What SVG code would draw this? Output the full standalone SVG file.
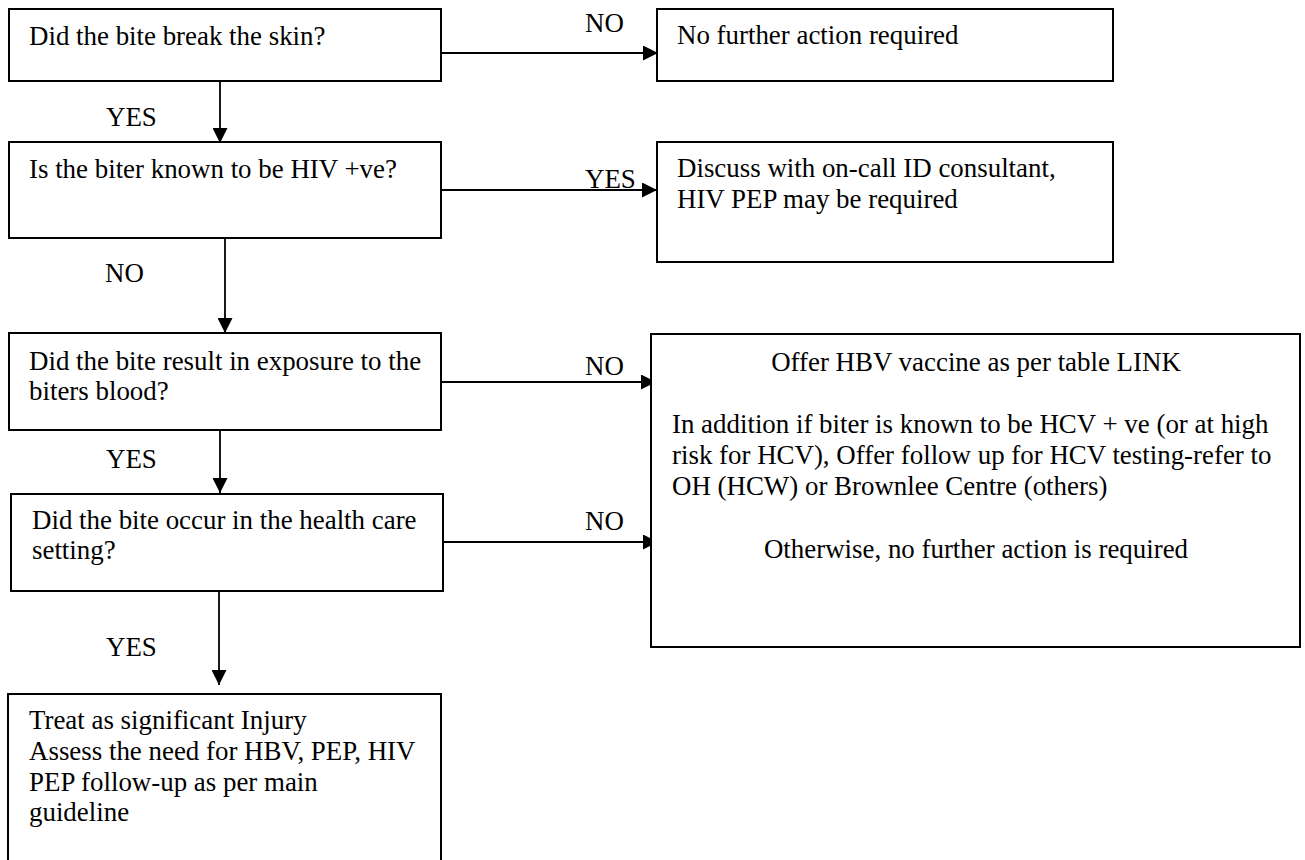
<svg xmlns="http://www.w3.org/2000/svg" width="1305" height="860" viewBox="0 0 1305 860">
<style>
.box{fill:#fff;stroke:#000;stroke-width:2}
.t{font-family:"Liberation Serif","Times New Roman",serif;font-size:26.9px;fill:#000}
.lbl{font-family:"Liberation Serif","Times New Roman",serif;font-size:26.9px;fill:#000}
.c{stroke:#000;stroke-width:1.8;fill:none;marker-end:url(#ah)}
</style>
<defs>
<marker id="ah" viewBox="0 0 15 15" refX="15" refY="7.5" markerUnits="userSpaceOnUse" markerWidth="15" markerHeight="15" orient="auto">
<path d="M0,0 L15,7.5 L0,15 Z" fill="#000"/>
</marker>
</defs>
<rect width="1305" height="860" fill="#fff"/>
<g id="connectors">
<line class="c" x1="442" y1="53" x2="658" y2="53"/>
<line class="c" x1="220" y1="81" x2="220" y2="143"/>
<line class="c" x1="442" y1="190" x2="657" y2="190"/>
<line class="c" x1="225" y1="238" x2="225" y2="333"/>
<line class="c" x1="442" y1="382" x2="656" y2="382"/>
<line class="c" x1="220" y1="430" x2="220" y2="493"/>
<line class="c" x1="443" y1="542" x2="658" y2="542"/>
<line class="c" x1="219" y1="591" x2="219" y2="685"/>
<text class="lbl" x="585" y="32">NO</text>
<text class="lbl" x="106" y="126">YES</text>
<text class="lbl" x="585" y="188">YES</text>
<text class="lbl" x="105" y="282">NO</text>
<text class="lbl" x="585" y="375">NO</text>
<text class="lbl" x="106" y="468">YES</text>
<text class="lbl" x="585" y="530">NO</text>
<text class="lbl" x="106" y="656">YES</text>
</g>
<g id="q1">
<rect class="box" x="9" y="9" width="432" height="72"/>
<text class="t" x="29" y="45">Did the bite break the skin?</text>
</g>
<g id="noaction">
<rect class="box" x="657" y="9" width="456" height="72"/>
<text class="t" x="677" y="44">No further action required</text>
</g>
<g id="q2">
<rect class="box" x="9" y="142" width="432" height="96"/>
<text class="t" x="29" y="178">Is the biter known to be HIV +ve?</text>
</g>
<g id="discuss">
<rect class="box" x="657" y="142" width="456" height="120"/>
<text class="t" x="677" y="177">Discuss with on-call ID consultant,</text>
<text class="t" x="677" y="208">HIV PEP may be required</text>
</g>
<g id="q3">
<rect class="box" x="9" y="333" width="432" height="97"/>
<text class="t" x="29" y="370">Did the bite result in exposure to the</text>
<text class="t" x="29" y="400">biters blood?</text>
</g>
<g id="q4">
<rect class="box" x="11" y="494" width="432" height="97"/>
<text class="t" x="32" y="529">Did the bite occur in the health care</text>
<text class="t" x="32" y="559">setting?</text>
</g>
<g id="hbv">
<rect class="box" x="651" y="334" width="649" height="313"/>
<text class="t" x="976" y="371" text-anchor="middle">Offer HBV vaccine as per table LINK</text>
<text class="t" x="672" y="433">In addition if biter is known to be HCV + ve (or at high</text>
<text class="t" x="672" y="464">risk for HCV), Offer follow up for HCV testing-refer to</text>
<text class="t" x="672" y="495">OH (HCW) or Brownlee Centre (others)</text>
<text class="t" x="976" y="558" text-anchor="middle">Otherwise, no further action is required</text>
</g>
<g id="significant">
<rect class="box" x="8" y="694" width="433" height="180"/>
<text class="t" x="29" y="729">Treat as significant Injury</text>
<text class="t" x="29" y="760">Assess the need for HBV, PEP, HIV</text>
<text class="t" x="29" y="791">PEP follow-up as per main</text>
<text class="t" x="29" y="821">guideline</text>
</g>
</svg>
